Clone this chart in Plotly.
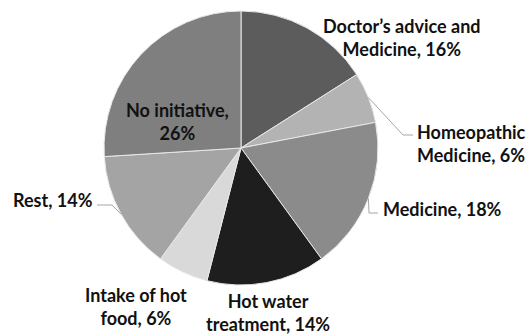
import math
import plotly.graph_objects as go

# Survey responses: share of respondents per remedy (percent)
labels = [
    "Doctor’s advice and<br>Medicine",
    "Homeopathic<br>Medicine",
    "Medicine",
    "Hot water<br>treatment",
    "Intake of hot<br>food",
    "Rest",
    "No initiative",
]
values = [16, 6, 18, 14, 6, 14, 26]
colors = ["#5c5c5c", "#b3b3b3", "#8b8b8b", "#1e1e1e", "#d9d9d9", "#a4a4a4", "#7f7f7f"]

W, H = 529, 335
CX, CY, R = 241, 148, 137  # pie centre and radius in pixels

def px(x):
    return x / W

def py(y):
    return 1 - y / H

# Label layout: text anchor (pixels), anchor side, separator before the percentage,
# and leader-line elbow points (None = no leader)
label_layout = [
    dict(x=402, y=37, xanchor="center", align="center", sep=", ", elbow=None),
    dict(x=416, y=143, xanchor="left", align="left", sep=", ", elbow=[(403, 135), (413, 135)]),
    dict(x=382, y=209, xanchor="left", align="left", sep=", ", elbow=[(369, 213), (378, 213)]),
    dict(x=268, y=312, xanchor="center", align="center", sep=", ", elbow=None),
    dict(x=136, y=306, xanchor="center", align="center", sep=", ", elbow=None),
    dict(x=94, y=200, xanchor="right", align="right", sep=", ", elbow=[(112, 205), (97, 205)]),
    dict(x=177, y=121, xanchor="center", align="center", sep=",<br>", elbow=None),
]

fig = go.Figure(go.Pie(
    labels=labels,
    values=values,
    marker=dict(colors=colors, line=dict(color="#e8e8e8", width=1)),
    sort=False,
    direction="clockwise",
    rotation=0,
    textinfo="none",
    hoverinfo="label+percent",
    showlegend=False,
    domain=dict(x=[px(CX - R), px(CX + R)], y=[py(CY + R), py(CY - R)]),
))

total = sum(values)
cum = 0
annotations = []
shapes = []
for lab, val, lay in zip(labels, values, label_layout):
    mid = (cum + val / 2) / total * 2 * math.pi
    cum += val
    annotations.append(dict(
        x=px(lay["x"]), y=py(lay["y"]), xref="paper", yref="paper",
        xanchor=lay["xanchor"], yanchor="middle",
        text=f"<b>{lab}{lay['sep']}{round(val / total * 100)}%</b>",
        showarrow=False, align=lay["align"], borderpad=0,
        font=dict(family="Lato", size=18, color="#111111"),
    ))
    if lay["elbow"]:
        ex = CX + R * math.sin(mid)
        ey = CY - R * math.cos(mid)
        pts = [(ex, ey)] + lay["elbow"]
        path = "M " + " L ".join(f"{px(a)},{py(b)}" for a, b in pts)
        shapes.append(dict(type="path", xref="paper", yref="paper", path=path,
                           line=dict(color="#a6a6a6", width=1)))

fig.update_layout(
    width=W, height=H,
    margin=dict(l=0, r=0, t=0, b=0),
    paper_bgcolor="white",
    plot_bgcolor="white",
    annotations=annotations,
    shapes=shapes,
)

fig.write_html("out.html")
